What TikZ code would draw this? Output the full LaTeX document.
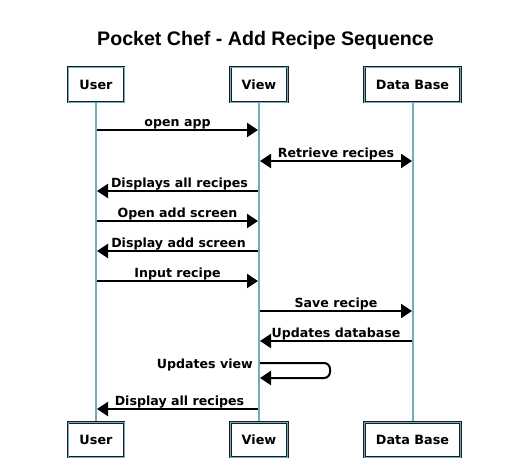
\documentclass[tikz,border=0pt]{standalone}
\usepackage{fontspec}
\setmainfont{DejaVu Sans}
\newfontfamily\titlefont{Liberation Sans}
\usetikzlibrary{arrows.meta,calc}
\definecolor{lbl}{RGB}{110,175,190}
\definecolor{dk}{RGB}{25,30,35}
\tikzset{
  actor/.style={draw=dk, double=lbl, double distance=0.9pt, line width=1pt, fill=white,
    minimum height=35pt, inner xsep=11pt, inner ysep=0pt,
    font=\bfseries\fontsize{12.8}{14}\selectfont},
  life/.style={draw=dk, double=lbl, double distance=1.1pt, line width=0.9pt},
  msg/.style={line width=2pt, -{Triangle[length=11pt,width=14pt]}},
  msg2/.style={line width=2pt, {Triangle[length=11pt,width=14pt]}-{Triangle[length=11pt,width=14pt]}},
  mlabel/.style={font=\bfseries\fontsize{12.6}{14}\selectfont, anchor=base, inner sep=0pt, yshift=4pt},
}
\begin{document}
\begin{tikzpicture}[x=1pt,y=-1pt]
\useasboundingbox (0,0) rectangle (512,458);
\node[font=\titlefont\bfseries\fontsize{19.6}{22}\selectfont] (title) at (265.5,40) {Pocket Chef - Add Recipe Sequence};
% lifelines
\coordinate (Ut) at (96,102); \coordinate (Ub) at (96,423);
\coordinate (Vt) at (259,102); \coordinate (Vb) at (259,423);
\coordinate (Dt) at (413,102); \coordinate (Db) at (413,423);
\draw[life] (Ut) -- (Ub);
\draw[life] (Vt) -- (Vb);
\draw[life] (Dt) -- (Db);
% boxes
\node[actor, minimum width=56pt] (U1) at (96,84.5) {User};
\node[actor, minimum width=56pt] (V1) at (259,84.5) {View};
\node[actor, minimum width=87pt] (D1) at (412.5,84.5) {Data Base};
\node[actor, minimum width=56pt] (U2) at (96,440) {User};
\node[actor, minimum width=56pt] (V2) at (259,440) {View};
\node[actor, minimum width=87pt] (D2) at (412.5,440) {Data Base};
% message endpoints
\coordinate (u1) at (97,130); \coordinate (v1) at (258,130);
\coordinate (v2) at (260,161); \coordinate (d2) at (412,161);
\coordinate (v3) at (258,191); \coordinate (u3) at (97,191);
\coordinate (u4) at (97,221); \coordinate (v4) at (258,221);
\coordinate (v5) at (258,251); \coordinate (u5) at (97,251);
\coordinate (u6) at (97,281); \coordinate (v6) at (258,281);
\coordinate (v7) at (260,311); \coordinate (d7) at (412,311);
\coordinate (d8) at (412,341); \coordinate (v8) at (260,341);
\coordinate (v9a) at (260,363); \coordinate (v9b) at (260,378);
\coordinate (v10) at (258,409); \coordinate (u10) at (97,409);
\draw[msg] (u1) -- node[mlabel]{open app} (v1);
\draw[msg2] (v2) -- node[mlabel]{Retrieve recipes} (d2);
\draw[msg] (v3) -- node[mlabel, xshift=2pt]{Displays all recipes} (u3);
\draw[msg] (u4) -- node[mlabel]{Open add screen} (v4);
\draw[msg] (v5) -- node[mlabel, xshift=1pt]{Display add screen} (u5);
\draw[msg] (u6) -- node[mlabel]{Input recipe} (v6);
\draw[msg] (v7) -- node[mlabel]{Save recipe} (d7);
\draw[msg] (d8) -- node[mlabel]{Updates database} (v8);
\draw[msg, rounded corners=6pt] (v9a) -- ++(70,0) -- ++(0,15) -- (v9b);
\node[font=\bfseries\fontsize{12.6}{14}\selectfont, anchor=base east, inner sep=0pt] (l9) at (253,368) {Updates view};
\draw[msg] (v10) -- node[mlabel, xshift=2pt]{Display all recipes} (u10);
\end{tikzpicture}
\end{document}
